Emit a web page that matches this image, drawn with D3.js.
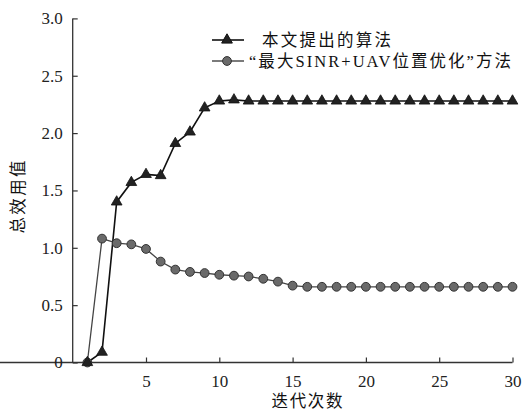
<!DOCTYPE html>
<html><head><meta charset="utf-8">
<script src="https://cdn.jsdelivr.net/npm/d3@7"></script>
<style>
html,body{margin:0;padding:0;background:#fff;}
svg{display:block;}
.serif{font-family:"Liberation Serif","Times New Roman","DejaVu Serif",serif;}
.cjk{font-family:"Liberation Serif","Times New Roman","Noto Sans CJK SC",serif;}
</style></head>
<body>
<svg id="c" width="531" height="412"></svg>
<script>
const iterations = d3.range(1, 31);
const proposed = [0, 0.09, 1.40, 1.57, 1.64, 1.63, 1.91, 2.01, 2.22, 2.28, 2.29, 2.28, 2.28, 2.28, 2.28, 2.28, 2.28, 2.28, 2.28, 2.28, 2.28, 2.28, 2.28, 2.28, 2.28, 2.28, 2.28, 2.28, 2.28, 2.28];
const baseline = [0, 1.08, 1.04, 1.03, 0.99, 0.88, 0.81, 0.79, 0.78, 0.765, 0.757, 0.75, 0.73, 0.705, 0.67, 0.66, 0.66, 0.66, 0.66, 0.66, 0.66, 0.66, 0.66, 0.66, 0.66, 0.66, 0.66, 0.66, 0.66, 0.66];
const xTicks = [5, 10, 15, 20, 25, 30];
const yTicks = [0, 0.5, 1.0, 1.5, 2.0, 2.5, 3.0];
const seriesNames = ["本文提出的算法", "“最大SINR+UAV位置优化”方法"];
const xTitle = "迭代次数";
const yTitle = "总效用值";

const svg = d3.select("#c");

const x = d3.scaleLinear().domain([0, 30]).range([72.7, 512.5]);
const y = d3.scaleLinear().domain([0, 3]).range([362.5, 18.4]);

// axes
const xAxis = svg.append("g").attr("transform", `translate(0,${y(0)})`)
  .call(d3.axisBottom(x).tickValues(xTicks).tickSizeInner(-5).tickSizeOuter(0).tickPadding(12).tickFormat(d3.format("d")));
const yAxis = svg.append("g").attr("transform", `translate(${x(0)},0)`)
  .call(d3.axisLeft(y).tickValues(yTicks).tickSizeInner(-5).tickSizeOuter(0).tickPadding(10)
    .tickFormat(d => d === 0 ? "0" : d3.format(".1f")(d)));
[xAxis, yAxis].forEach(g => {
  g.attr("font-family", null);
  g.select(".domain").attr("stroke", "#333").attr("stroke-width", 1.3);
  g.selectAll(".tick line").attr("stroke", "#333").attr("stroke-width", 1.2);
  g.selectAll(".tick text").attr("class", "serif").style("font-size", "17px").attr("fill", "#222");
});
yAxis.select(".domain").attr("d", `M0,${y(0)}V${y(3)}`);
xAxis.select(".domain").attr("d", `M0,0H${x(30)}`);

// series
const lineGen = d3.line().x((d, i) => x(iterations[i])).y(d => y(d));
svg.append("path").datum(baseline).attr("d", lineGen)
  .attr("fill", "none").attr("stroke", "#444").attr("stroke-width", 1.3);
svg.append("path").datum(proposed).attr("d", lineGen)
  .attr("fill", "none").attr("stroke", "#111").attr("stroke-width", 1.6);

const tri = d3.symbol().type(d3.symbolTriangle).size(50);
const circ = d3.symbol().type(d3.symbolCircle).size(Math.PI * 4.4 * 4.4);

svg.append("g").selectAll("path").data(baseline).join("path")
  .attr("transform", (d, i) => `translate(${x(iterations[i])},${y(d)})`)
  .attr("d", circ).attr("fill", "#6a6a6a").attr("stroke", "#333").attr("stroke-width", 1);
svg.append("g").selectAll("path").data(proposed).join("path")
  .attr("transform", (d, i) => `translate(${x(iterations[i])},${y(d)})`)
  .attr("d", tri).attr("fill", "#222").attr("stroke", "#111").attr("stroke-width", 0.8);

// legend
const lg = svg.append("g");
const legendRows = [
  {name: seriesNames[0], y: 40, sym: tri, fill: "#222", stroke: "#111", lw: 1.6, tx: 262, tlen: 129},
  {name: seriesNames[1], y: 61, sym: circ, fill: "#6a6a6a", stroke: "#333", lw: 1.3, tx: 249, tlen: 262}
];
legendRows.forEach(r => {
  lg.append("line").attr("x1", 212).attr("x2", 244).attr("y1", r.y).attr("y2", r.y)
    .attr("stroke", r.stroke).attr("stroke-width", r.lw);
  lg.append("path").attr("transform", `translate(227,${r.y})`).attr("d", r.sym)
    .attr("fill", r.fill).attr("stroke", r.stroke).attr("stroke-width", 1);
  lg.append("text").attr("class", "cjk").attr("x", r.tx).attr("y", r.y).attr("dy", "0.36em")
    .style("font-size", "16.5px").attr("fill", "#111")
    .attr("textLength", r.tlen).attr("lengthAdjust", "spacing").text(r.name);
});

// axis titles
svg.append("text").attr("class", "cjk").attr("x", 307).attr("y", 401).attr("dy", "0.35em").attr("text-anchor", "middle")
  .style("font-size", "16.5px").attr("fill", "#111")
  .attr("textLength", 71).attr("lengthAdjust", "spacing").text(xTitle);
svg.append("text").attr("class", "cjk").attr("transform", "translate(18,197) rotate(-90)").attr("text-anchor", "middle").attr("dy", "0.35em")
  .style("font-size", "16.5px").attr("fill", "#111")
  .attr("textLength", 73).attr("lengthAdjust", "spacing").text(yTitle);
</script>
</body></html>
